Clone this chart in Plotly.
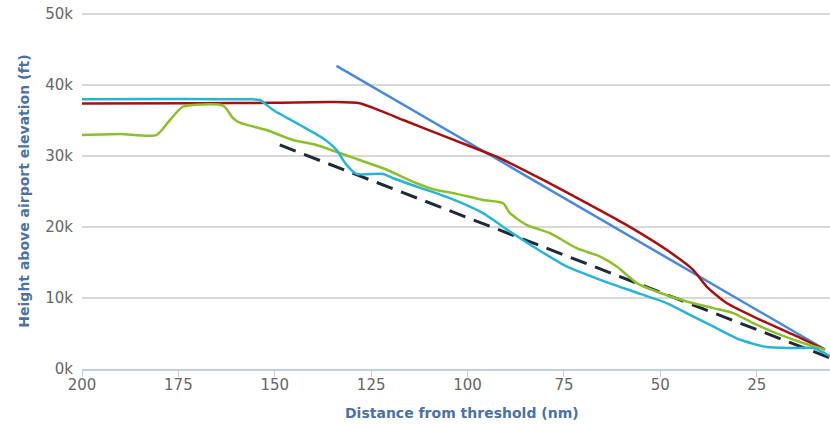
import plotly.graph_objects as go

# Data (distance from threshold in nm, height in ft)
red_x = [200, 170, 150, 135, 128, 122, 116.7, 104.6, 94.7, 91.6, 80.4, 69.1, 59.6, 48.4, 41.5, 38.0, 32.8, 24.2, 15.5, 7.3]
red_y = [37400, 37450, 37500, 37600, 37430, 36250, 35080, 32500, 30390, 29690, 26630, 23360, 20540, 16790, 13970, 11620, 9290, 6940, 4830, 2720]

cyan_x = [200, 180, 165, 156.4, 153.9, 150.4, 143.5, 137.5, 134, 131.4, 128.8, 121.9, 119.3, 113.2, 104.6, 96, 89, 83, 74.3, 65.6, 57, 48.4, 43.2, 36.3, 29.3, 22.4, 16.4, 10.3, 6]
cyan_y = [38000, 38050, 38000, 37990, 37890, 36480, 34370, 32500, 30860, 28750, 27480, 27480, 26870, 25690, 24060, 21950, 19360, 17250, 14440, 12560, 10920, 9290, 7880, 5990, 4120, 3090, 2950, 2950, 1800]

green_x = [200, 190, 180.7, 177.2, 173.8, 163.4, 160.8, 159.1, 152.2, 145.3, 139.2, 130.5, 121.9, 113.2, 108.9, 102.9, 96, 90.8, 89, 84.7, 78.6, 71.7, 65.6, 61.3, 56.1, 51, 43.2, 36.3, 31.1, 25.9, 19, 13, 7.3]
green_y = [32960, 33100, 32960, 35060, 36950, 37090, 35320, 34700, 33670, 32260, 31560, 29910, 28280, 26170, 25330, 24670, 23820, 23360, 21950, 20300, 19130, 17020, 15840, 14440, 12100, 10920, 9510, 8580, 7880, 6470, 4830, 3660, 2720]

blue_x = [134, 7.3]
blue_y = [42700, 2750]

dash_x = [148.7, 0]
dash_y = [31560, 300]

x_ticks = [200, 175, 150, 125, 100, 75, 50, 25]
y_ticks = [0, 10000, 20000, 30000, 40000, 50000]
y_labels = ["0k", "10k", "20k", "30k", "40k", "50k"]

fig = go.Figure()
fig.add_trace(go.Scatter(x=dash_x, y=dash_y, mode="lines",
                         line=dict(color="#1c2a3a", width=3, dash="17px,9px")))
fig.add_trace(go.Scatter(x=blue_x, y=blue_y, mode="lines",
                         line=dict(color="#4a88dd", width=2.5)))
fig.add_trace(go.Scatter(x=red_x, y=red_y, mode="lines",
                         line=dict(color="#a8100f", width=2.5, shape="spline", smoothing=0.6)))
fig.add_trace(go.Scatter(x=green_x, y=green_y, mode="lines",
                         line=dict(color="#8cc02a", width=2.5, shape="spline", smoothing=0.6)))
fig.add_trace(go.Scatter(x=cyan_x, y=cyan_y, mode="lines",
                         line=dict(color="#27b4d6", width=2.5, shape="spline", smoothing=0.6)))

title_font = dict(family="DejaVu Sans, Verdana, sans-serif", size=14, color="#4a72a6")
tick_font = dict(family="DejaVu Sans, Verdana, sans-serif", size=15, color="#666666")

fig.update_layout(
    width=830, height=424,
    margin=dict(l=82, r=0, t=13, b=55, autoexpand=False),
    paper_bgcolor="white", plot_bgcolor="white",
    showlegend=False,
    xaxis=dict(
        range=[200, 6], tickmode="array", tickvals=x_ticks,
        ticktext=[str(v) for v in x_ticks],
        showgrid=False, zeroline=False,
        showline=True, linecolor="#c0d0e0", linewidth=1.5,
        ticks="outside", ticklen=6, tickcolor="#c0d0e0", tickwidth=1,
        tickfont=tick_font, automargin=False, ticklabelstandoff=-5,
    ),
    yaxis=dict(
        range=[0, 50150], tickmode="array", tickvals=y_ticks, ticktext=y_labels,
        showgrid=True, gridcolor="#d8d8d8", gridwidth=1.5, zeroline=False,
        showline=False, ticks="", ticklabelstandoff=8, ticklabeloverflow="allow",
        tickfont=tick_font, automargin=False,
        title=dict(text="<b>Height above airport elevation (ft)</b>", font=title_font, standoff=12),
    ),
    annotations=[dict(
        text="<b>Distance from threshold (nm)</b>", font=title_font,
        xref="paper", yref="paper", x=0.508, y=0, yshift=-44,
        xanchor="center", yanchor="middle", showarrow=False,
    )],
)

# remove the default page margin so the 830x424 figure fills the window exactly
fig.write_html("out.html", config={"displayModeBar": False},
               post_script="document.body.style.margin='0';")
